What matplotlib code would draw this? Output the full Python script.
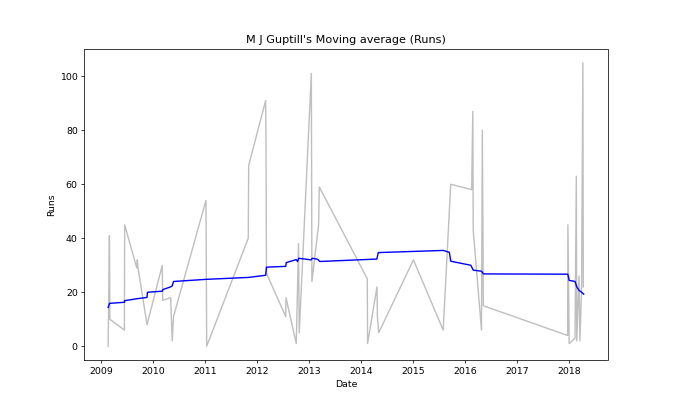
import pandas as pd
import matplotlib
matplotlib.use("Agg")
import matplotlib.pyplot as plt

# Runs per innings (grey line)
inning_dates = [
    "2009-02-19", "2009-02-28", "2009-03-03", "2009-06-13", "2009-06-15",
    "2009-09-08", "2009-09-12", "2009-09-17", "2009-11-19", "2010-03-06",
    "2010-03-09", "2010-05-04", "2010-05-15", "2010-05-24", "2011-01-07",
    "2011-01-12", "2011-10-31", "2011-11-03", "2012-03-01", "2012-03-03",
    "2012-03-07", "2012-07-20", "2012-07-22", "2012-10-02", "2012-10-18",
    "2012-10-23", "2013-01-16", "2013-01-20", "2013-03-08", "2013-03-13",
    "2014-02-13", "2014-02-15", "2014-04-22", "2014-04-25", "2014-05-04",
    "2015-01-03", "2015-07-31", "2015-09-22", "2016-02-16", "2016-02-24",
    "2016-02-27", "2016-04-25", "2016-05-01", "2016-05-08", "2017-12-21",
    "2017-12-23", "2018-01-01", "2018-02-11", "2018-02-20", "2018-02-23",
    "2018-03-11", "2018-03-17", "2018-03-29", "2018-04-07", "2018-04-10",
]
runs = [
    0, 41, 10, 6, 45,
    29, 32, 29, 8, 30,
    17, 18, 2, 11, 54,
    0, 40, 67, 91, 80,
    27, 11, 18, 1, 38,
    5, 101, 24, 45, 59,
    25, 1, 22, 11, 5,
    32, 6, 60, 58, 87,
    43, 6, 80, 15, 4,
    45, 1, 3, 63, 2,
    26, 2, 21, 105, 22,
]

# Moving average (blue line)
avg_dates = [
    "2009-02-19", "2009-03-01", "2009-06-13", "2009-06-15", "2009-09-08",
    "2009-11-19", "2009-11-22", "2010-03-06", "2010-03-10", "2010-05-04",
    "2010-05-15", "2010-05-24", "2011-01-12", "2011-11-01", "2012-03-01",
    "2012-03-07", "2012-07-20", "2012-07-24", "2012-10-01", "2012-10-11",
    "2012-10-20", "2013-01-14", "2013-01-23", "2013-03-02", "2013-03-16",
    "2014-04-21", "2014-05-01", "2015-08-01", "2015-09-12", "2015-09-22",
    "2016-02-10", "2016-02-27", "2016-04-25", "2016-05-08", "2017-12-22",
    "2018-01-01", "2018-02-11", "2018-02-23", "2018-03-11", "2018-03-29",
    "2018-04-13",
]
avg_runs = [
    14.4, 15.9, 16.3, 16.9, 17.6,
    18.1, 20.0, 20.4, 21.0, 22.0,
    22.4, 24.0, 24.8, 25.5, 26.3,
    29.3, 29.6, 31.0, 32.1, 31.4,
    32.6, 32.0, 32.6, 32.2, 31.4,
    32.3, 34.7, 35.5, 34.8, 31.5,
    30.0, 28.2, 27.8, 26.8, 26.7,
    24.4, 24.0, 22.0, 20.7, 20.0,
    19.3,
]

fig, ax = plt.subplots(figsize=(10, 6), dpi=67.5)
ax.plot(pd.to_datetime(inning_dates), runs, color="grey", alpha=0.5)
ax.plot(pd.to_datetime(avg_dates), avg_runs, color="blue")
ax.set_title("M J Guptill's Moving average (Runs)")
ax.set_xlabel("Date")
ax.set_ylabel("Runs")

fig.savefig("out.png")
